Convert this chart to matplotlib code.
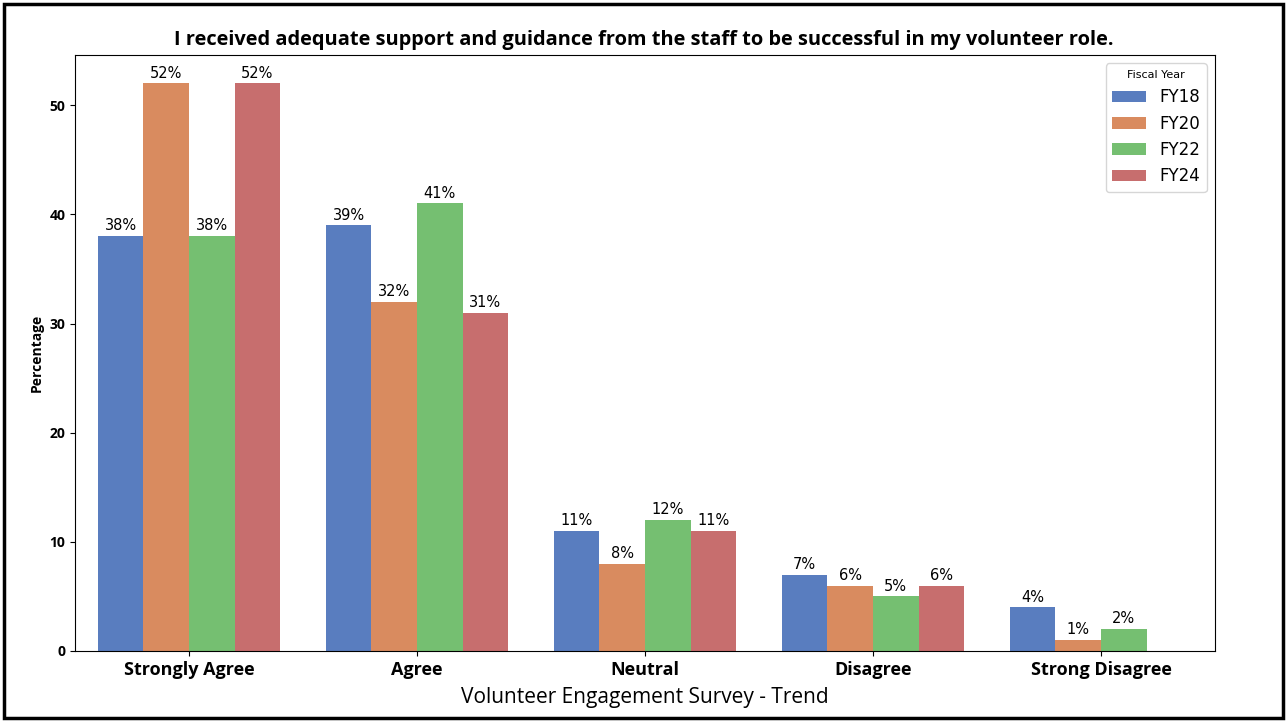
import matplotlib
matplotlib.use("Agg")
import matplotlib.pyplot as plt
import numpy as np
import seaborn as sns
from matplotlib.patches import Rectangle

categories = ["Strongly Agree", "Agree", "Neutral", "Disagree", "Strong Disagree"]
years = ["FY18", "FY20", "FY22", "FY24"]
fy18 = [38, 39, 11, 7, 4]
fy20 = [52, 32, 8, 6, 1]
fy22 = [38, 41, 12, 5, 2]
fy24 = [52, 31, 11, 6, 0]
series = [fy18, fy20, fy22, fy24]
colors = [sns.desaturate(c, 0.75) for c in ["#4878d0", "#ee854a", "#6acc64", "#d65f5f"]]

fig = plt.figure(figsize=(12.87, 7.22), dpi=100)
ax = fig.add_axes([75/1287, 1-651/722, (1215-75)/1287, (651-55)/722])

x = np.arange(len(categories))
w = 0.2
for i, (yr, vals) in enumerate(zip(years, series)):
    pos = x - 0.4 + w*(i+0.5)
    ax.bar(pos, vals, width=w, color=colors[i], label=yr)
    for p, v in zip(pos, vals):
        if v > 0:
            ax.annotate(f"{v}%", (p, v), xytext=(0, 2), textcoords="offset points",
                        ha="center", va="bottom", fontsize=10.5, family="DejaVu Sans")

ax.set_xlim(-0.5, 4.5)
ax.set_ylim(0, 54.6)
ax.set_xticks(x)
ax.set_xticklabels(categories, fontsize=13, fontweight="bold", family="Open Sans")
ax.set_yticks([0, 10, 20, 30, 40, 50])
for t in ax.get_yticklabels():
    t.set_fontweight("bold")
    t.set_fontsize(10)
    t.set_family("Open Sans")
ax.set_ylabel("Percentage", fontsize=10, fontweight="bold", family="Open Sans")

fig.text(0.5, 1-40/722, "I received adequate support and guidance from the staff to be successful in my volunteer role.",
         ha="center", va="center", fontsize=14.4, fontweight="bold", family="Open Sans")
fig.text(645/1287, 1-697/722, "Volunteer Engagement Survey - Trend", ha="center", va="center",
         fontsize=15, family="Open Sans")

leg = ax.legend(title="Fiscal Year", fontsize=12, title_fontsize=8, loc="upper right")

fig.patches.append(Rectangle((4/1287, 4/722), 1-8/1287, 1-8/722, transform=fig.transFigure,
                             fill=False, edgecolor="black", linewidth=2.5))

fig.savefig("out.png", dpi=100)
